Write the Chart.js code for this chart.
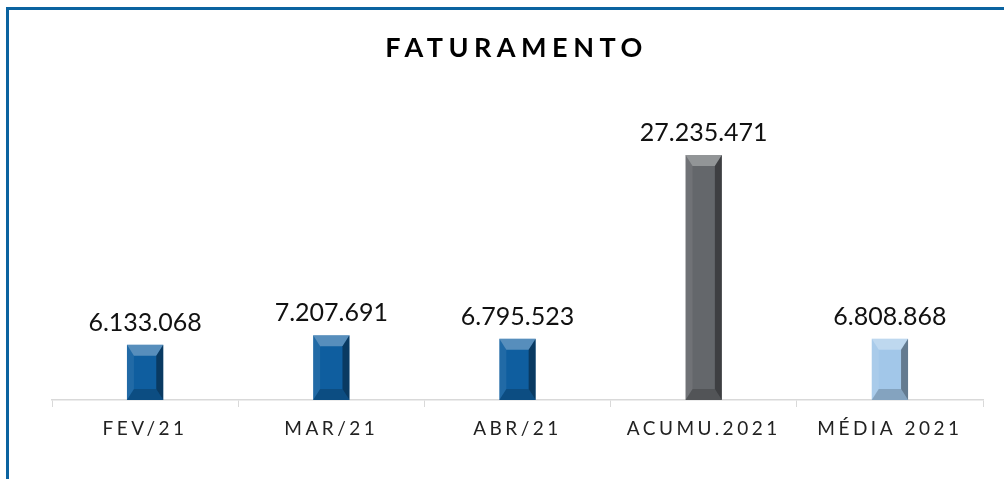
<!DOCTYPE html>
<html>
<head>
<meta charset="utf-8">
<script src="https://cdn.jsdelivr.net/npm/chart.js@4.4.1/dist/chart.umd.min.js"></script>
<style>
  html, body { margin: 0; padding: 0; background: #fff; overflow: hidden; }
  #wrap { position: relative; width: 1004px; height: 479px; }
  #frame {
    position: absolute; left: 6px; top: 7px; width: 1100px; height: 600px;
    border: 3px solid #0b63a0; pointer-events: none;
  }
</style>
</head>
<body>
<div id="wrap">
  <canvas id="chart" width="1004" height="479"></canvas>
  <div id="frame"></div>
</div>
<script>
// chart data
const categories = ["FEV/21", "MAR/21", "ABR/21", "ACUMU.2021", "MÉDIA 2021"];
const faturamento = [6133068, 7207691, 6795523, 27235471, 6808868];
const chartTitle = "FATURAMENTO";

// styles per bar
const barColors = ["#0f5e9f", "#0f5e9f", "#0f5e9f", "#64676b", "#a2c7e9"];
const tickSpacing = "3.5px";

function formatBR(v) {
  return String(v).replace(/\B(?=(\d{3})+(?!\d))/g, ".");
}

// sets spacing for the axis labels before the scales are drawn, title at the end
const spacingPlugin = {
  id: "spacing",
  beforeDraw(chart) {
    chart.ctx.letterSpacing = tickSpacing;
  },
  afterDraw(chart) {
    const ctx = chart.ctx;
    const area = chart.chartArea;
    ctx.save();
    ctx.letterSpacing = "5.5px";
    ctx.font = "bold 27px Lato";
    ctx.fillStyle = "#000";
    ctx.textAlign = "center";
    ctx.textBaseline = "alphabetic";
    ctx.fillText(chartTitle, (area.left + area.right) / 2 - 1, 57);
    ctx.restore();
    ctx.letterSpacing = "0px";
  },
};

// bevel look + value labels on top of the bars
const bevelPlugin = {
  id: "bevel",
  afterDatasetsDraw(chart) {
    const ctx = chart.ctx;
    const meta = chart.getDatasetMeta(0);
    ctx.save();
    ctx.letterSpacing = "0px";
    meta.data.forEach((bar, i) => {
      const p = bar.getProps(["x", "y", "base", "width"], true);
      const l = p.x - p.width / 2;
      const r = p.x + p.width / 2;
      const t = p.y;
      const b = p.base;
      const bw = 7;
      const bh = Math.min(11, (b - t) / 3);

      const face = (pts, fill) => {
        ctx.beginPath();
        ctx.moveTo(pts[0][0], pts[0][1]);
        for (let k = 1; k < pts.length; k++) ctx.lineTo(pts[k][0], pts[k][1]);
        ctx.closePath();
        ctx.fillStyle = fill;
        ctx.fill();
      };
      face([[l, t], [r, t], [r - bw, t + bh], [l + bw, t + bh]], "rgba(255,255,255,0.30)");
      face([[r, t], [r, b], [r - bw, b - bh], [r - bw, t + bh]], "rgba(0,0,0,0.38)");
      face([[l, t], [l + bw, t + bh], [l + bw, b - bh], [l, b]], "rgba(255,255,255,0.08)");
      face([[l, b], [r, b], [r - bw, b - bh], [l + bw, b - bh]], "rgba(0,0,0,0.18)");

      ctx.font = "25px Lato";
      ctx.fillStyle = "#111";
      ctx.textAlign = "center";
      ctx.textBaseline = "alphabetic";
      ctx.fillText(formatBR(faturamento[i]), p.x, t - 14);
    });
    ctx.restore();
    ctx.letterSpacing = tickSpacing;
  },
};

new Chart(document.getElementById("chart"), {
  type: "bar",
  data: {
    labels: categories,
    datasets: [
      {
        label: chartTitle,
        data: faturamento,
        backgroundColor: barColors,
        borderWidth: 0,
        categoryPercentage: 1,
        barPercentage: 0.195,
      },
    ],
  },
  options: {
    responsive: false,
    animation: false,
    layout: { padding: { top: 130, left: 52, right: 21, bottom: 0 } },
    plugins: {
      legend: { display: false },
      title: { display: false },
      tooltip: { enabled: false },
    },
    scales: {
      x: {
        afterFit: (s) => { s.height = 79; },
        border: { color: "#d9d9d9", width: 1.5 },
        grid: { drawOnChartArea: false, drawTicks: true, tickLength: 7, color: "#d9d9d9" },
        ticks: {
          color: "#222",
          font: { family: "Lato", size: 19 },
          padding: 10,
          maxRotation: 0,
          autoSkip: false,
        },
      },
      y: {
        display: false,
        min: 0,
        max: 30000000,
      },
    },
  },
  plugins: [spacingPlugin, bevelPlugin],
});
</script>
</body>
</html>
